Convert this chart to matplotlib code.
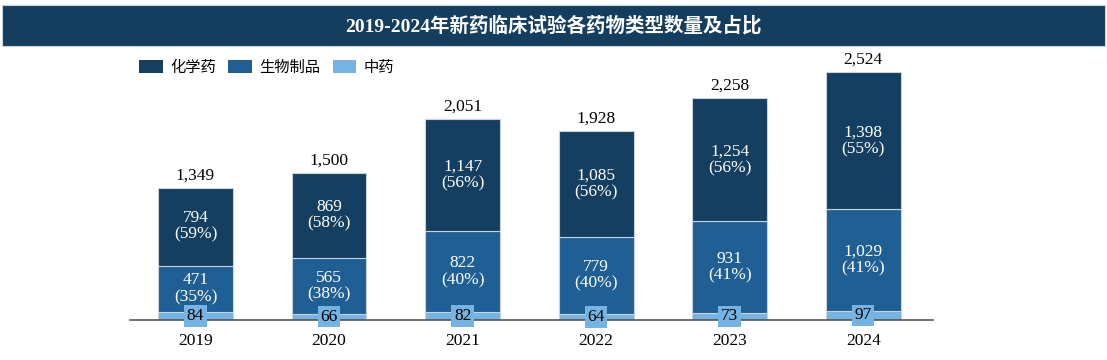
import matplotlib.pyplot as plt
import numpy as np

plt.rcParams['font.family'] = ['Liberation Serif', 'Noto Sans CJK SC']

years = ['2019', '2020', '2021', '2022', '2023', '2024']
chem = [794, 869, 1147, 1085, 1254, 1398]
bio = [471, 565, 822, 779, 931, 1029]
tcm = [84, 66, 82, 64, 73, 97]
totals = [1349, 1500, 2051, 1928, 2258, 2524]
chem_pct = ['59%', '58%', '56%', '56%', '56%', '55%']
bio_pct = ['35%', '38%', '40%', '40%', '41%', '41%']

c_chem = '#143f60'
c_bio = '#1f5f93'
c_tcm = '#74b3e2'

fig = plt.figure(figsize=(11.07, 3.6), dpi=100)

# title bar
fig.patches.append(plt.Rectangle((0.002, 0.872), 0.996, 0.114, transform=fig.transFigure,
                                 facecolor='#133e5f', edgecolor='#c8d3dc', linewidth=0.8))
fig.text(0.5, 0.929, '2019-2024年新药临床试验各药物类型数量及占比', ha='center', va='center',
         color='white', fontsize=14, fontweight='bold',
         family=['Liberation Serif', 'Noto Sans CJK SC'])

ax = fig.add_axes([0.1175, 0.111, 0.725, 0.764])
x = np.arange(len(years))
w = 0.56
edge = dict(edgecolor='#c9d2da', linewidth=0.8)
ax.bar(x, tcm, w, color=c_tcm, label='中药', **edge)
ax.bar(x, bio, w, bottom=tcm, color=c_bio, label='生物制品', **edge)
ax.bar(x, chem, w, bottom=np.array(tcm) + np.array(bio), color=c_chem, label='化学药', **edge)

for i in range(len(years)):
    ax.text(x[i], tcm[i] / 2, f'{tcm[i]}', ha='center', va='center', fontsize=12.5, color='black',
            bbox=dict(boxstyle='square,pad=0.15', facecolor=c_tcm, edgecolor='none'))
    yb = tcm[i] + bio[i] / 2
    ax.text(x[i], yb, f'{bio[i]:,}\n({bio_pct[i]})', ha='center', va='center', fontsize=12.5,
            color='white', linespacing=1.05)
    yc = tcm[i] + bio[i] + chem[i] / 2
    ax.text(x[i], yc, f'{chem[i]:,}\n({chem_pct[i]})', ha='center', va='center', fontsize=12.5,
            color='white', linespacing=1.05)
    ax.annotate(f'{totals[i]:,}', xy=(x[i], totals[i]), xytext=(0, 3), textcoords='offset points',
                ha='center', va='bottom', fontsize=12.5)

ax.set_xlim(-0.49, 5.52)
ax.set_ylim(0, 2800)
ax.set_xticks(x)
ax.set_xticklabels(years, fontsize=12.5)
ax.tick_params(axis='x', length=0, pad=9)
ax.set_yticks([])
for s in ['top', 'right', 'left']:
    ax.spines[s].set_visible(False)
ax.spines['bottom'].set_color('#555555')
ax.spines['bottom'].set_linewidth(1.2)

h, l = ax.get_legend_handles_labels()
leg = fig.legend(h[::-1], l[::-1], loc='upper left', bbox_to_anchor=(0.113, 0.875), ncol=3,
                 frameon=False, handlelength=1.55, handleheight=0.95,
                 columnspacing=0.8, handletextpad=0.5,
                 prop={'family': ['Noto Sans CJK SC'], 'size': 11})
for p in leg.get_patches():
    p.set_edgecolor('none')

fig.savefig('out.png', dpi=100)
